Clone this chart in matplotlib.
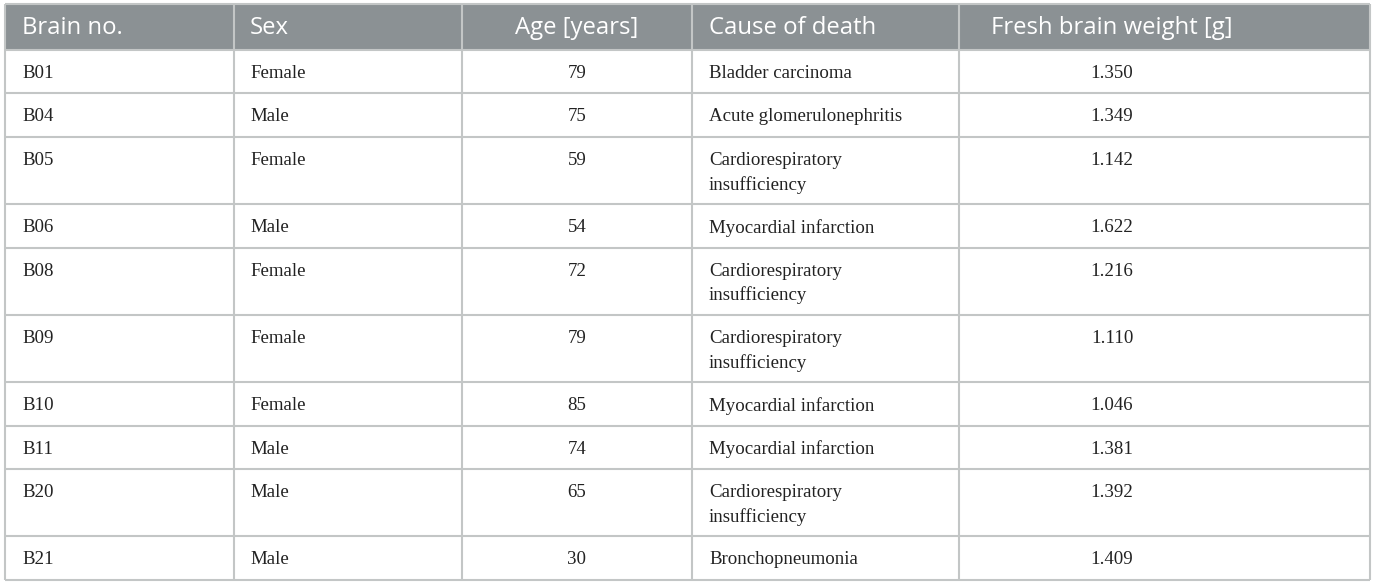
import matplotlib
matplotlib.use("Agg")
import matplotlib.pyplot as plt
import matplotlib.patches as mpatches

# table content
columns = ["Brain no.", "Sex", "Age [years]", "Cause of death", "Fresh brain weight [g]"]
brain_no = ["B01", "B04", "B05", "B06", "B08", "B09", "B10", "B11", "B20", "B21"]
sex = ["Female", "Male", "Female", "Male", "Female", "Female", "Female", "Male", "Male", "Male"]
age = [79, 75, 59, 54, 72, 79, 85, 74, 65, 30]
cause = [
    "Bladder carcinoma",
    "Acute glomerulonephritis",
    "Cardiorespiratory\ninsufficiency",
    "Myocardial infarction",
    "Cardiorespiratory\ninsufficiency",
    "Cardiorespiratory\ninsufficiency",
    "Myocardial infarction",
    "Myocardial infarction",
    "Cardiorespiratory\ninsufficiency",
    "Bronchopneumonia",
]
weight = ["1.350", "1.349", "1.142", "1.622", "1.216", "1.110", "1.046", "1.381", "1.392", "1.409"]

HEADER_BG = "#8b9194"
GRID = "#c3c6c6"
col_edges = [5, 234, 462, 692, 959, 1370]
top, header_h = 4, 46

fig = plt.figure(figsize=(13.75, 5.85), dpi=100)
ax = fig.add_axes([0, 0, 1, 1])
ax.set_xlim(0, 1375)
ax.set_ylim(585, 0)
ax.axis("off")

# header
ax.add_patch(mpatches.Rectangle((col_edges[0], top), col_edges[-1] - col_edges[0], header_h,
                                facecolor=HEADER_BG, edgecolor="none"))
header_x = [22, 250, 577, 709, 1112]
header_ha = ["left", "left", "center", "left", "center"]
for name, x, ha in zip(columns, header_x, header_ha):
    ax.text(x, top + header_h / 2 + 1.5, name, ha=ha, va="center", color="white",
            fontsize=17.2, family="Open Sans")

# body rows
y = top + header_h
row_lines = [top, y]
line_step = 24.5
for i in range(len(brain_no)):
    n_lines = cause[i].count("\n") + 1
    h = 43.4 if n_lines == 1 else 67.3
    ty = y + 23.5
    cells = [brain_no[i], sex[i], str(age[i]), cause[i], weight[i]]
    for text, x, ha in zip(cells, header_x, header_ha):
        for k, part in enumerate(text.split("\n")):
            ax.text(x, ty + k * line_step, part, ha=ha, va="center", color="#222222",
                    fontsize=13.6, family="Liberation Serif")
    y += h
    row_lines.append(y)

# grid lines
for ry in row_lines:
    ax.plot([col_edges[0], col_edges[-1]], [ry, ry], color=GRID, lw=1.5, solid_capstyle="butt")
for cx in col_edges:
    ax.plot([cx, cx], [top, row_lines[-1]], color=GRID, lw=1.5, solid_capstyle="butt")

fig.savefig("out.png", dpi=100)
